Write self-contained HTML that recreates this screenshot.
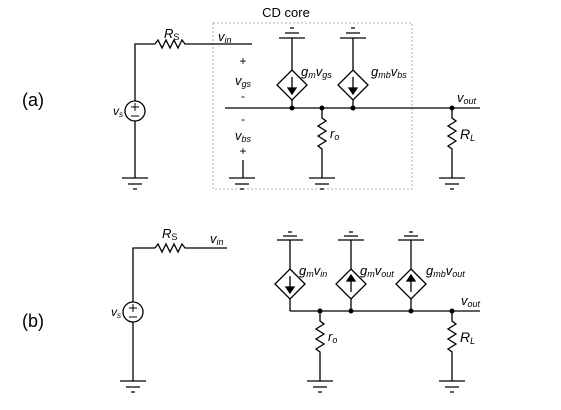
<!DOCTYPE html>
<html><head><style>
html,body{margin:0;padding:0;background:#fff;}
svg{display:block;}
text{font-family:"Liberation Sans",sans-serif;fill:#000;}
.i{font-style:italic;}
</style></head><body>
<svg width="561" height="410" viewBox="0 0 561 410" stroke="#000" stroke-width="1.3" fill="none">
<text x="22" y="106" font-size="18" stroke="none">(a)</text>
<text x="22" y="327" font-size="18" stroke="none">(b)</text>
<text x="286" y="17" font-size="13" stroke="none" text-anchor="middle">CD core</text>
<rect x="213" y="23" width="199" height="166" stroke="#999" stroke-width="0.8" stroke-dasharray="2,2"/>

<polyline points="135,101 135,44 155,44"/>
<polyline points="155,44 158,40 162,48 166,40 170,48 174,40 178,48 182,40 185,44 252,44"/>
<circle cx="135" cy="111" r="10"/>
<line x1="135" y1="121" x2="135" y2="178"/>
<path d="M131,107h8M135,103v8M131,116h8" stroke-width="1"/>
<text x="113" y="115" font-size="12" class="i" stroke="none">v<tspan font-size="8" dy="2">s</tspan></text>
<text x="164" y="38" font-size="13" class="i" stroke="none">R<tspan font-size="9" dy="2" font-style="normal">S</tspan></text>
<text x="218" y="41" font-size="13" class="i" stroke="none">v<tspan font-size="9" dy="2">in</tspan></text>

<path d="M122,178h26M128,184h14M133,189h4"/>
<path d="M229,178h26M235,184h14M240,189h4"/>
<path d="M309,178h26M315,184h14M320,189h4"/>
<path d="M439,178h26M445,184h14M450,189h4"/>
<path d="M279,38h26M285,33h14M290,28h4"/>
<path d="M340,38h26M346,33h14M351,28h4"/>
<line x1="243" y1="160" x2="243" y2="178"/>
<text x="243" y="65" font-size="12" stroke="none" text-anchor="middle">+</text>
<text x="243" y="85" font-size="13" class="i" stroke="none" text-anchor="middle">v<tspan font-size="9" dy="2">gs</tspan></text>
<text x="243" y="100" font-size="12" stroke="none" text-anchor="middle">-</text>
<text x="243" y="123" font-size="12" stroke="none" text-anchor="middle">-</text>
<text x="243" y="140" font-size="13" class="i" stroke="none" text-anchor="middle">v<tspan font-size="9" dy="2">bs</tspan></text>
<text x="243" y="155" font-size="12" stroke="none" text-anchor="middle">+</text>

<line x1="225" y1="108" x2="480" y2="108"/>
<line x1="292" y1="38" x2="292" y2="108"/>
<path d="M292,70 L307,85 L292,100 L277,85Z" fill="#fff"/>
<line x1="292" y1="77" x2="292" y2="91"/><path d="M288,88 L292,94 L296,88Z" fill="#000"/>
<line x1="353" y1="38" x2="353" y2="108"/>
<path d="M353,70 L368,85 L353,100 L338,85Z" fill="#fff"/>
<line x1="353" y1="77" x2="353" y2="91"/><path d="M349,88 L353,94 L357,88Z" fill="#000"/>
<text x="301" y="76" font-size="13" class="i" stroke="none">g<tspan font-size="9" dy="2">m</tspan><tspan dy="-2">v</tspan><tspan font-size="9" dy="2">gs</tspan></text>
<text x="371" y="76" font-size="13" class="i" stroke="none">g<tspan font-size="9" dy="2">mb</tspan><tspan dy="-2">v</tspan><tspan font-size="9" dy="2">bs</tspan></text>
<polyline points="322,108 322,118 326,121 318,126 326,131 318,136 326,141 318,146 322,149 322,178"/>
<text x="330" y="138" font-size="13" class="i" stroke="none">r<tspan font-size="9" dy="2">o</tspan></text>
<polyline points="452,108 452,118 456,121 448,126 456,131 448,136 456,141 448,146 452,149 452,178"/>
<text x="460" y="139" font-size="14" class="i" stroke="none">R<tspan font-size="9" dy="2">L</tspan></text>
<text x="457" y="102" font-size="13" class="i" stroke="none">v<tspan font-size="9" dy="2">out</tspan></text>
<g fill="#000" stroke="none"><circle cx="292" cy="108" r="2.5"/><circle cx="322" cy="108" r="2.5"/><circle cx="353" cy="108" r="2.5"/><circle cx="452" cy="108" r="2.5"/></g>

<polyline points="133,302 133,248 155,248"/>
<polyline points="155,248 158,244 162,252 166,244 170,252 174,244 178,252 182,244 185,248 227,248"/>
<circle cx="133" cy="312" r="10"/>
<line x1="133" y1="322" x2="133" y2="381"/>
<path d="M129,308h8M133,304v8M129,317h8" stroke-width="1"/>
<text x="111" y="316" font-size="12" class="i" stroke="none">v<tspan font-size="8" dy="2">s</tspan></text>
<text x="162" y="238" font-size="13" class="i" stroke="none">R<tspan font-size="9" dy="2" font-style="normal">S</tspan></text>
<text x="210" y="243" font-size="13" class="i" stroke="none">v<tspan font-size="9" dy="2">in</tspan></text>
<path d="M120,381h26M126,387h14M131,392h4"/>
<path d="M307,381h26M313,387h14M318,392h4"/>
<path d="M439,381h26M445,387h14M450,392h4"/>
<path d="M277,240h26M283,236h14M288,232h4"/>
<path d="M338,240h26M344,236h14M349,232h4"/>
<path d="M398,240h26M404,236h14M409,232h4"/>

<line x1="290" y1="311" x2="480" y2="311"/>
<polyline points="290,240 290,311"/>
<line x1="351" y1="240" x2="351" y2="311"/>
<line x1="411" y1="240" x2="411" y2="311"/>
<path d="M290,269 L305,284 L290,299 L275,284Z" fill="#fff"/>
<line x1="290" y1="276" x2="290" y2="290"/><path d="M286,287 L290,293 L294,287Z" fill="#000"/>
<path d="M351,269 L366,284 L351,299 L336,284Z" fill="#fff"/>
<line x1="351" y1="278" x2="351" y2="292"/><path d="M347,281 L351,275 L355,281Z" fill="#000"/>
<path d="M411,269 L426,284 L411,299 L396,284Z" fill="#fff"/>
<line x1="411" y1="278" x2="411" y2="292"/><path d="M407,281 L411,275 L415,281Z" fill="#000"/>
<text x="299" y="275" font-size="13" class="i" stroke="none">g<tspan font-size="9" dy="2">m</tspan><tspan dy="-2">v</tspan><tspan font-size="9" dy="2">in</tspan></text>
<text x="360" y="275" font-size="13" class="i" stroke="none">g<tspan font-size="9" dy="2">m</tspan><tspan dy="-2">v</tspan><tspan font-size="9" dy="2">out</tspan></text>
<text x="426" y="275" font-size="13" class="i" stroke="none">g<tspan font-size="9" dy="2">mb</tspan><tspan dy="-2">v</tspan><tspan font-size="9" dy="2">out</tspan></text>
<polyline points="320,311 320,321 324,324 316,329 324,334 316,339 324,344 316,349 320,352 320,381"/>
<text x="328" y="341" font-size="13" class="i" stroke="none">r<tspan font-size="9" dy="2">o</tspan></text>
<polyline points="452,311 452,321 456,324 448,329 456,334 448,339 456,344 448,349 452,352 452,381"/>
<text x="460" y="342" font-size="14" class="i" stroke="none">R<tspan font-size="9" dy="2">L</tspan></text>
<text x="461" y="305" font-size="13" class="i" stroke="none">v<tspan font-size="9" dy="2">out</tspan></text>
<g fill="#000" stroke="none"><circle cx="320" cy="311" r="2.5"/><circle cx="351" cy="311" r="2.5"/><circle cx="411" cy="311" r="2.5"/><circle cx="452" cy="311" r="2.5"/></g>
</svg>
</body></html>
